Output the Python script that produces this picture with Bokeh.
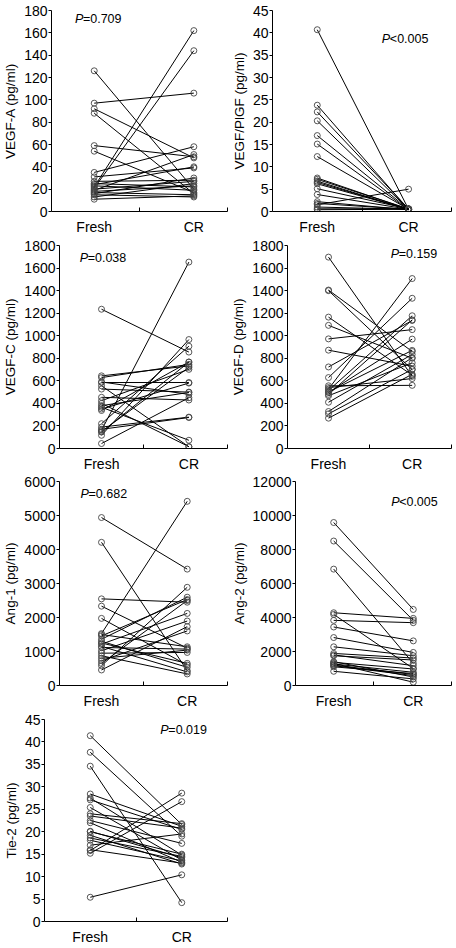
from bokeh.plotting import figure
from bokeh.models import Range1d, FixedTicker, Label, ColumnDataSource
from bokeh.layouts import column, row
from bokeh.embed import file_html
from bokeh.resources import INLINE

categories = ["Fresh", "CR"]

vegfa_fresh = [126, 97, 92, 88, 59, 54, 35, 31, 27, 25, 23, 22, 21, 20, 19, 18, 17, 16, 15, 13, 11, 24]
vegfa_cr = [20, 106, 48, 16, 49, 17, 58, 39, 28, 22, 19, 162, 144, 27, 51, 23, 15, 30, 13, 25, 14, 40]

plgf_fresh = [40.7, 23.8, 22.3, 20.3, 17.0, 15.1, 12.3, 7.5, 7.2, 6.8, 6.5, 6.2, 5.1, 3.8, 2.2, 1.8, 1.5, 1.0, 0.6, 0.4]
plgf_cr = [0.5, 0.4, 0.6, 0.5, 0.5, 0.4, 0.5, 0.5, 0.6, 0.4, 0.5, 0.5, 0.6, 0.5, 0.4, 0.5, 5.0, 0.5, 0.6, 0.5]

vegfc_fresh = [1235, 644, 629, 585, 556, 527, 454, 424, 380, 366, 337, 220, 190, 161, 146, 117, 44, 400, 590, 170, 150, 350]
vegfc_cr = [855, 732, 746, 585, 15, 500, 430, 702, 497, 73, 767, 907, 278, 1653, 766, 966, 450, 16, 480, 275, 720, 580]

vegfd_fresh = [1697, 1405, 1400, 1165, 1092, 972, 872, 723, 629, 556, 527, 515, 497, 480, 468, 410, 328, 307, 269, 540, 500]
vegfd_cr = [640, 860, 700, 650, 800, 1054, 730, 1135, 1332, 560, 1507, 1177, 970, 1140, 760, 834, 805, 702, 658, 620, 870]

ang1_fresh = [4940, 4211, 2548, 2334, 1974, 1527, 1459, 1361, 1216, 1118, 1021, 875, 729, 583, 457, 1500, 1250, 1300, 950, 1150, 800, 650]
ang1_cr = [3423, 438, 2450, 1100, 600, 5417, 2528, 2597, 2120, 1070, 1896, 340, 1605, 2888, 1731, 1138, 651, 535, 972, 400, 1040, 2500]

ang2_fresh = [9588, 8499, 6846, 4279, 4181, 3831, 3442, 2820, 2275, 1886, 1750, 1361, 1264, 1167, 836, 1300, 1200, 1800, 1400, 1100]
ang2_cr = [4473, 3831, 1303, 3948, 1000, 3695, 2625, 1945, 1750, 1614, 1500, 972, 778, 583, 389, 194, 650, 1167, 500, 700]

tie2_fresh = [41.4, 37.7, 34.6, 28.4, 27.5, 27.1, 25.4, 24.0, 22.5, 22.0, 20.1, 19.2, 18.1, 17.0, 15.8, 15.2, 5.4, 23.5, 18.6, 16.0, 20.0]
tie2_cr = [21.6, 19.0, 4.2, 21.2, 14.8, 20.5, 13.7, 21.8, 17.4, 13.2, 14.2, 12.8, 13.5, 19.5, 28.6, 26.7, 10.4, 20.8, 14.5, 13.0, 15.0]

y_labels = ["VEGF-A (pg/ml)", "VEGF/PlGF (pg/ml)", "VEGF-C (pg/ml)", "VEGF-D (pg/ml)",
            "Ang-1 (pg/ml)", "Ang-2 (pg/ml)", "Tie-2 (pg/ml)"]
y_max = [180, 45, 1800, 1800, 6000, 12000, 45]
y_step = [20, 5, 200, 200, 1000, 2000, 5]
p_ops = ["=", "<", "=", "=", "=", "<", "="]
p_vals = ["0.709", "0.005", "0.038", "0.159", "0.682", "0.005", "0.019"]

FONT = "Liberation Sans"


def make_panel(fresh, cr, ymax, ystep, ylabel, p_op, p_val, xr, p_fx, p_fy,
               w, h, b_top, b_right):
    x0r, x1r = xr
    p = figure(width=w, height=h, output_backend="svg", toolbar_location=None,
               x_range=Range1d(x0r, x1r), y_range=Range1d(0, ymax),
               min_border_left=0, min_border_right=b_right, min_border_top=b_top,
               min_border_bottom=24)
    p.outline_line_color = None
    p.grid.visible = False
    p.background_fill_color = "white"
    p.border_fill_color = "white"
    n = len(fresh)
    xs0 = [1] * n
    xs1 = [2] * n
    src = ColumnDataSource(dict(x0=xs0, x1=xs1, y0=fresh, y1=cr))
    p.segment("x0", "y0", "x1", "y1", source=src, line_color="black", line_width=1)
    p.scatter(xs0, fresh, marker="circle", size=6, fill_color=None, line_color="#444444", line_width=0.9)
    p.scatter(xs1, cr, marker="circle", size=6, fill_color=None, line_color="#444444", line_width=0.9)

    xa = p.xaxis[0]
    xa.ticker = FixedTicker(ticks=[1, 2], minor_ticks=[(x0r + x1r) / 2, x1r])
    xa.major_label_overrides = {1: categories[0], 2: categories[1]}
    xa.major_tick_in = 0
    xa.major_tick_out = 0
    xa.minor_tick_in = 4
    xa.minor_tick_out = 0
    xa.minor_tick_line_color = "black"
    xa.axis_line_color = "black"
    xa.major_label_text_font = FONT
    xa.major_label_text_font_size = "14px"
    xa.major_label_text_color = "black"
    xa.major_label_standoff = 7

    ya = p.yaxis[0]
    ya.ticker = FixedTicker(ticks=list(range(0, ymax + 1, ystep)))
    ya.major_tick_in = 0
    ya.major_tick_out = 3
    ya.minor_tick_line_color = None
    ya.axis_line_color = "black"
    ya.major_tick_line_color = "black"
    ya.major_label_text_font = FONT
    ya.major_label_text_font_size = "14px"
    ya.major_label_text_color = "black"
    ya.major_label_standoff = 1
    ya.axis_label = ylabel
    ya.axis_label_text_font = FONT
    ya.axis_label_text_font_size = "13.5px"
    ya.axis_label_text_font_style = "normal"
    ya.axis_label_text_color = "black"
    ya.axis_label_standoff = 3

    px = x0r + p_fx * (x1r - x0r)
    py = ymax * p_fy
    p.add_layout(Label(x=px, y=py, text="P", text_font=FONT, text_font_size="12.5px",
                       text_font_style="italic", text_baseline="middle", text_color="black"))
    p.add_layout(Label(x=px, y=py, x_offset=8, text=p_op + p_val, text_font=FONT,
                       text_font_size="12.5px", text_baseline="middle", text_color="black"))
    return p


WL, WR = 228, 226
p1 = make_panel(vegfa_fresh, vegfa_cr, y_max[0], y_step[0], y_labels[0], p_ops[0], p_vals[0],
                (0.571, 2.338), 0.133, 0.96, WL, 237, 10, 1)
p2 = make_panel(plgf_fresh, plgf_cr, y_max[1], y_step[1], y_labels[1], p_ops[1], p_vals[1],
                (0.51, 2.47), 0.611, 0.86, WR, 237, 10, 3)
p3 = make_panel(vegfc_fresh, vegfc_cr, y_max[2], y_step[2], y_labels[2], p_ops[2], p_vals[2],
                (0.519, 2.442), 0.12, 0.94, WL, 237, 8, 1)
p4 = make_panel(vegfd_fresh, vegfd_cr, y_max[3], y_step[3], y_labels[3], p_ops[3], p_vals[3],
                (0.51, 2.47), 0.629, 0.96, WR, 237, 8, 3)
p5 = make_panel(ang1_fresh, ang1_cr, y_max[4], y_step[4], y_labels[4], p_ops[4], p_vals[4],
                (0.51, 2.47), 0.125, 0.94, WL, 237, 7, 1)
p6 = make_panel(ang2_fresh, ang2_cr, y_max[5], y_step[5], y_labels[5], p_ops[5], p_vals[5],
                (0.52, 2.48), 0.613, 0.90, WR, 237, 7, 3)
p7 = make_panel(tie2_fresh, tie2_cr, y_max[6], y_step[6], y_labels[6], p_ops[6], p_vals[6],
                (0.5, 2.5), 0.633, 0.946, WL, 236, 8, 1)

layout = column(row(p1, p2), row(p3, p4), row(p5, p6), row(p7))

open("out.html", "w").write(file_html(layout, INLINE))
